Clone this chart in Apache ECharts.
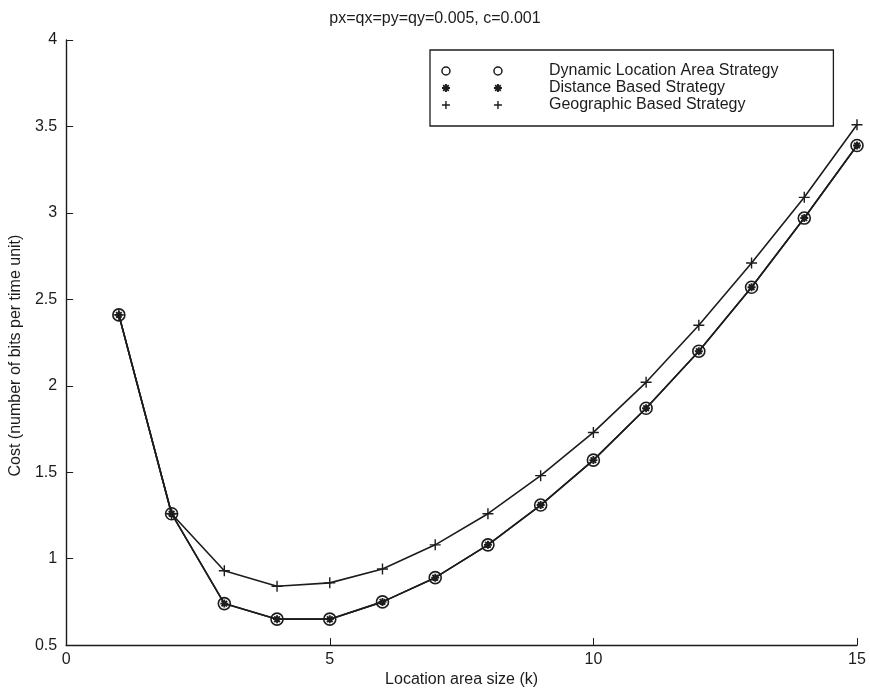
<!DOCTYPE html>
<html><head><meta charset="utf-8">
<script src="https://cdn.jsdelivr.net/npm/echarts@6/dist/echarts.min.js"></script>
<style>html,body{margin:0;padding:0;background:#fff}#c{width:870px;height:693px}</style>
</head><body><div id="c"></div>
<script>
const titleText = 'px=qx=py=qy=0.005, c=0.001';
const xAxisName = 'Location area size (k)';
const yAxisName = 'Cost (number of bits per time unit)';
const seriesNames = ['Dynamic Location Area Strategy', 'Distance Based Strategy', 'Geographic Based Strategy'];
const kValues = [1, 2, 3, 4, 5, 6, 7, 8, 9, 10, 11, 12, 13, 14, 15];
const dynamicCost = [2.41, 1.26, 0.74, 0.65, 0.65, 0.75, 0.89, 1.08, 1.31, 1.57, 1.87, 2.20, 2.57, 2.97, 3.39];
const distanceCost = [2.41, 1.26, 0.74, 0.65, 0.65, 0.75, 0.89, 1.08, 1.31, 1.57, 1.87, 2.20, 2.57, 2.97, 3.39];
const geographicCost = [2.41, 1.26, 0.93, 0.84, 0.86, 0.94, 1.08, 1.26, 1.48, 1.73, 2.02, 2.35, 2.71, 3.09, 3.51];

const FONT = "'Liberation Sans', Arial, Helvetica, sans-serif";
const INK = '#1c1c1c';
const starPath = 'path://M0,5L10,5M5,0L5,10M1.5,1.5L8.5,8.5M1.5,8.5L8.5,1.5';
const plusPath = 'path://M0,5L10,5M5,0L5,10';
const legCircle = 'path://M0,4A4,4 0 1,1 8,4A4,4 0 1,1 0,4ZM52,4A4,4 0 1,1 60,4A4,4 0 1,1 52,4Z';
const legStar = 'path://M0,4L8,4M4,0L4,8M1.2,1.2L6.8,6.8M1.2,6.8L6.8,1.2M52,4L60,4M56,0L56,8M53.2,1.2L58.8,6.8M53.2,6.8L58.8,1.2';
const legPlus = 'path://M0,4L8,4M4,0L4,8M52,4L60,4M56,0L56,8';

function pairs(ys) { return kValues.map((k, i) => [k, ys[i]]); }
const strokeOnly = (w) => ({ color: 'rgba(0,0,0,0)', borderColor: INK, borderWidth: w });

const chart = echarts.init(document.getElementById('c'), null, { renderer: 'canvas' });
chart.setOption({
  animation: false,
  backgroundColor: '#fff',
  title: {
    text: titleText, left: 'center', top: 6,
    textStyle: { fontFamily: FONT, fontSize: 16, fontWeight: 'normal', color: INK }
  },
  grid: { left: 66, right: 13, top: 40, bottom: 44 },
  legend: {
    orient: 'vertical', left: 430, top: 50,
    padding: [13, 55, 13, 11], itemGap: 1, itemWidth: 60, itemHeight: 8,
    backgroundColor: '#fff', borderColor: INK, borderWidth: 1.3, borderRadius: 0,
    selectedMode: false,
    textStyle: { fontFamily: FONT, fontSize: 16, color: INK, padding: [0, 0, 0, 42], lineHeight: 16 },
    data: [
      { name: seriesNames[0], icon: legCircle, itemStyle: strokeOnly(1.5) },
      { name: seriesNames[1], icon: legStar, itemStyle: strokeOnly(1.9) },
      { name: seriesNames[2], icon: legPlus, itemStyle: strokeOnly(1.4) }
    ]
  },
  xAxis: {
    type: 'value', min: 0, max: 15, interval: 5,
    name: xAxisName, nameLocation: 'middle', nameGap: 21,
    nameTextStyle: { fontFamily: FONT, fontSize: 16, color: INK },
    axisLine: { lineStyle: { color: INK, width: 1.4 } },
    axisTick: { inside: true, length: 7, lineStyle: { color: INK } },
    axisLabel: { fontFamily: FONT, fontSize: 16, color: INK, margin: 6 },
    splitLine: { show: false }
  },
  yAxis: {
    type: 'value', min: 0.5, max: 4, interval: 0.5,
    name: yAxisName, nameLocation: 'middle', nameGap: 38, nameRotate: 90,
    nameTextStyle: { fontFamily: FONT, fontSize: 16, color: INK, padding: [0, 26, 0, 0] },
    axisLine: { show: true, lineStyle: { color: INK, width: 1.4 } },
    axisTick: { show: true, inside: true, length: 7, lineStyle: { color: INK } },
    axisLabel: { fontFamily: FONT, fontSize: 16, color: INK, margin: 9 },
    splitLine: { show: false }
  },
  series: [
    {
      name: seriesNames[0], type: 'line', data: pairs(dynamicCost),
      symbol: 'circle', symbolSize: 12, showAllSymbol: true,
      lineStyle: { color: INK, width: 1.6 }, itemStyle: strokeOnly(1.6)
    },
    {
      name: seriesNames[1], type: 'line', data: pairs(distanceCost),
      symbol: starPath, symbolSize: 8, showAllSymbol: true,
      lineStyle: { color: INK, width: 1.6 }, itemStyle: strokeOnly(1.9)
    },
    {
      name: seriesNames[2], type: 'line', data: pairs(geographicCost),
      symbol: plusPath, symbolSize: 11, showAllSymbol: true,
      lineStyle: { color: INK, width: 1.6 }, itemStyle: strokeOnly(1.4)
    }
  ]
});
</script></body></html>
